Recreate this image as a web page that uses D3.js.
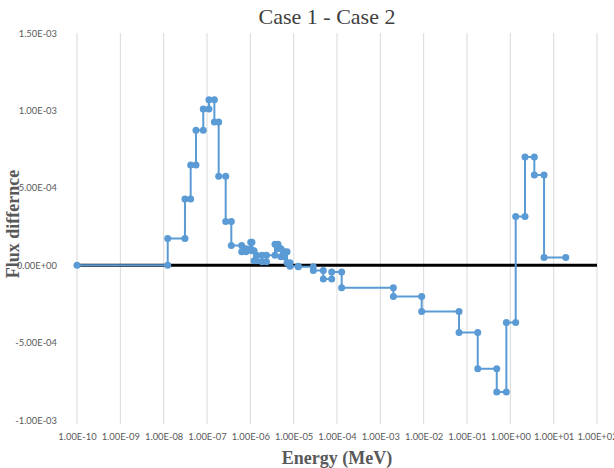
<!DOCTYPE html>
<html>
<head>
<meta charset="utf-8">
<script src="https://cdn.jsdelivr.net/npm/d3@7"></script>
<style>
  body { margin: 0; background: #fff; }
  .tick text { font-family: Lato, "Open Sans", sans-serif; font-size: 9.4px; fill: #595959; }
</style>
</head>
<body>
<svg id="chart"></svg>
<script>
// group boundaries (MeV) and flux difference per group
const energyBounds = [1e-10, 1.24e-8, 3.1e-8, 4.2e-8, 5.57e-8, 8.2e-8, 1.11e-7, 1.48e-7, 1.86e-7, 2.70e-7,
  3.64e-7, 6.32e-7, 7.94e-7, 1.02e-6, 1.09e-6, 1.22e-6, 1.39e-6, 1.86e-6, 2.36e-6, 3.71e-6,
  4.36e-6, 5.11e-6, 5.99e-6, 7.03e-6, 8.24e-6, 1.28e-5, 2.84e-5, 4.83e-5, 7.55e-5, 1.28e-4,
  2.0e-3, 9.0e-3, 6.55e-2, 0.177, 0.486, 0.81, 1.33, 2.18, 3.58, 6.0, 19.0];
const fluxDiff = [0, 1.73e-4, 4.28e-4, 6.47e-4, 8.71e-4, 1.009e-3, 1.069e-3, 9.25e-4, 5.74e-4, 2.83e-4,
  1.28e-4, 8.7e-5, 1.07e-4, 1.49e-4, 9.4e-5, 2.9e-5, 6.5e-5, 2.3e-5, 6.5e-5, 1.36e-4,
  1.07e-4, 5.5e-5, 8.7e-5, 1.6e-5, -6e-6, -1.0e-5, -3.4e-5, -8.9e-5, -4.4e-5, -1.45e-4,
  -2.02e-4, -2.99e-4, -4.34e-4, -6.69e-4, -8.19e-4, -3.70e-4, 3.15e-4, 6.99e-4, 5.83e-4, 5.0e-5];
const xTicks = [1e-10, 1e-9, 1e-8, 1e-7, 1e-6, 1e-5, 1e-4, 1e-3, 1e-2, 1e-1, 1e0, 1e1, 1e2];
const yTicks = [-1e-3, -5e-4, 0, 5e-4, 1e-3, 1.5e-3];

const width = 614, height = 468;
const margin = { top: 33, right: 17, bottom: 48, left: 77 };

const svg = d3.select("#chart").attr("width", width).attr("height", height);

const x = d3.scaleLog().domain([1e-10, 1e2]).range([margin.left, width - margin.right]);
const y = d3.scaleLinear().domain([-1e-3, 1.5e-3]).range([height - margin.bottom, margin.top]);

// Excel style scientific labels, e.g. 1.00E-10
function sci(v) {
  if (v === 0) return "0.00E+00";
  const e = Math.floor(Math.log10(Math.abs(v)) + 1e-9);
  const m = v / Math.pow(10, e);
  return m.toFixed(2) + "E" + (e < 0 ? "-" : "+") + String(Math.abs(e)).padStart(2, "0");
}

// vertical gridlines
svg.append("g").selectAll("line")
  .data(xTicks)
  .enter().append("line")
  .attr("x1", d => x(d)).attr("x2", d => x(d))
  .attr("y1", y(1.5e-3)).attr("y2", y(-1e-3) + 4)
  .attr("stroke", "#d9d9d9").attr("stroke-width", 1);

// axes (labels only)
const xAxis = svg.append("g")
  .attr("transform", `translate(0,${y(-1e-3) + 5})`)
  .call(d3.axisBottom(x).tickValues(xTicks).tickFormat(sci).tickSize(0).tickPadding(8));
xAxis.select(".domain").remove();

const yAxis = svg.append("g")
  .attr("transform", `translate(${margin.left - 20},0)`)
  .call(d3.axisLeft(y).tickValues(yTicks).tickFormat(sci).tickSize(0).tickPadding(0));
yAxis.select(".domain").remove();

// zero line
svg.append("line")
  .attr("x1", x(1e-10)).attr("x2", x(1e2))
  .attr("y1", y(0)).attr("y2", y(0))
  .attr("stroke", "#000").attr("stroke-width", 3);

// step points: both ends of every group
const points = [];
fluxDiff.forEach((v, i) => {
  points.push({ e: energyBounds[i], v: v });
  points.push({ e: energyBounds[i + 1], v: v });
});

const line = d3.line().x(d => x(d.e)).y(d => y(d.v));

svg.append("path")
  .datum(points)
  .attr("d", line)
  .attr("fill", "none")
  .attr("stroke", "#5b9bd5")
  .attr("stroke-width", 2);

svg.append("g").selectAll("circle")
  .data(points)
  .enter().append("circle")
  .attr("cx", d => x(d.e))
  .attr("cy", d => y(d.v))
  .attr("r", 3.5)
  .attr("fill", "#5b9bd5");

// titles
svg.append("text")
  .attr("x", 327).attr("y", 24)
  .attr("text-anchor", "middle")
  .attr("font-family", "'Liberation Serif', serif")
  .attr("font-size", 22)
  .attr("fill", "#404040")
  .text("Case 1 - Case 2");

svg.append("text")
  .attr("x", 337).attr("y", 464)
  .attr("text-anchor", "middle")
  .attr("font-family", "'Liberation Serif', serif")
  .attr("font-weight", "bold")
  .attr("font-size", 18)
  .attr("fill", "#595959")
  .text("Energy (MeV)");

svg.append("text")
  .attr("transform", "translate(19,224) rotate(-90)")
  .attr("text-anchor", "middle")
  .attr("font-family", "'Liberation Serif', serif")
  .attr("font-weight", "bold")
  .attr("font-size", 18)
  .attr("fill", "#595959")
  .text("Flux differnce");
</script>
</body>
</html>
